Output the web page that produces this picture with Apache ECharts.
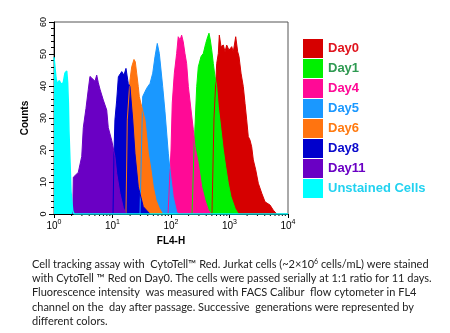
<!DOCTYPE html>
<html><head><meta charset="utf-8">
<script src="https://cdn.jsdelivr.net/npm/echarts@6/dist/echarts.min.js"></script>
<style>html,body{margin:0;padding:0;background:#fff}#c{width:450px;height:333px}</style>
</head><body><div id="c"></div>
<script>
// FL4-H intensity, counts
const day0 = [[502,0],[543,30],[604,47],[644,50.2],[670,55.9],[716,52.3],[784,52.8],[838,50.7],[896,52.8],[980,51.2],[1091,52.3],[1161,50.7],[1277,55.4],[1381,50.7],[1453,49.2],[1574,44],[1722,39.8],[1841,34.6],[1967,29.4],[2094,24.2],[2240,23.1],[2394,21],[2553,16.9],[2806,13.8],[3107,9.6],[3556,6.5],[4047,3.8],[4924,2.8],[5610,1.2],[6412,0]];
const day1 = [[229,0],[247,20],[275,39.8],[293,46],[326,49.2],[357,50.2],[392,53.3],[424,55.4],[446,56.5],[470,54.4],[497,51.2],[529,47],[565,42.9],[604,39.8],[644,33.5],[716,26.3],[784,20],[861,14.8],[953,9.6],[1061,5.4],[1242,1.8],[1413,0]];
const day4 = [[89,0],[100,20],[105,34.6],[114,44],[125,50.2],[133,55.4],[143,54.4],[152,55.9],[162,53.8],[173,50.2],[185,47],[198,39.8],[220,32.5],[241,26.3],[257,21],[293,15.8],[335,8.5],[381,4.4],[434,1.3],[483,0]];
const day5 = [[29.5,0],[32.8,36.7],[38.4,39.3],[43.8,40.8],[48.7,44],[53.3,49.2],[58.3,53.3],[63.1,50.2],[67.5,45],[72.1,39.8],[78.9,32],[89.9,19],[96.1,13.8],[109,5.4],[125,0.7],[132,0]];
const day6 = [[17.0,0],[17.9,29.4],[19.9,41.9],[21.3,46],[23.3,48.3],[24.5,47.6],[25.9,44],[27.6,39.8],[28.7,36.7],[31.6,33.5],[35.9,29.4],[38.4,24.2],[40.9,19],[45.5,13.8],[49.8,8.5],[55.4,4.4],[63.1,1.8],[72.1,0]];
const day8 = [[10.2,0],[10.6,19],[11.0,29.4],[11.8,35.6],[12.6,42.9],[14.4,44.5],[15.7,43.4],[17.0,45.5],[18.6,40.8],[19.9,39.8],[22.2,29.4],[24.2,19],[27.6,8.5],[33.6,2.3],[43.8,0]];
const day11 = [[2.09,0],[2.14,11.5],[2.60,13],[2.98,18],[3.17,27],[3.52,33],[3.86,39],[4.12,43],[4.41,43.4],[5.02,41.5],[5.37,43.4],[5.72,41],[6.11,39],[6.96,35.6],[7.96,32.5],[8.47,27],[9.69,23],[11.0,18],[11.8,12.7],[13.4,6.5],[15.3,2],[17.0,0]];
const unstained = [[1.0,49],[1.04,48.5],[1.08,42.5],[1.14,40.6],[1.23,41.7],[1.32,40.6],[1.44,41],[1.54,44],[1.65,44.7],[1.71,41],[1.76,34.7],[1.80,26],[1.88,16],[1.95,7],[2.09,1],[2.2,0],[10000,0]];

const seriesNames = ['Day0','Day1','Day4','Day5','Day6','Day8','Day11','Unstained Cells'];
const seriesData = [day0, day1, day4, day5, day6, day8, day11, unstained];
const fillColors = ['#d60000','#00f000','#ff0a96','#1a98ff','#ff7410','#0000cc','#6a00c4','#00ffff'];
const textColors = ['#e0141e','#2e9a52','#ff0a96','#1a98ff','#ff7a10','#0a0acc','#6a00c4','#22d2f0'];
const xTicks = [1,10,100,1000,10000];
const yTicks = [0,10,20,30,40,50,60];
const caption = [
 'Cell tracking assay with  CytoTell\u2122 Red. Jurkat cells (~2\u00d710{s|6} cells/mL) were stained',
 'with CytoTell \u2122 Red on Day0. The cells were passed serially at 1:1 ratio for 11 days.',
 'Fluorescence intensity  was measured with FACS Calibur  flow cytometer in FL4',
 'channel on the  day after passage. Successive  generations were represented by',
 'different colors.'
];

const chart = echarts.init(document.getElementById('c'), null, {renderer:'canvas'});
const series = seriesNames.map((n,i)=>({
  name:n, type:'line', data:seriesData[i], symbol:'none', animation:false,
  lineStyle:{color:fillColors[i], width: i===7?1.5:1},
  itemStyle:{color:fillColors[i]},
  areaStyle:{color:fillColors[i], opacity:1}
}));
const graphics = caption.map((t,i)=>({
  type:'text', left:32, top:258+i*14.5,
  style:{text:t, font:'11px Lato', fill:'#222',
    rich:{s:{fontFamily:'Lato', fontSize:7, fill:'#222', padding:[0,0,5,0]}}}
}));
chart.setOption({
  animation:false,
  grid:{left:54, top:22, width:234, height:192, show:true, borderColor:'#555', borderWidth:1, backgroundColor:'transparent'},
  legend:{
    orient:'vertical', left:303, top:39, padding:0, itemWidth:20, itemHeight:19, itemGap:1,
    selectedMode:false, icon:'rect',
    textStyle:{fontFamily:'Arial', fontWeight:'bold', fontSize:13},
    data:seriesNames.map((n,i)=>({name:n, textStyle:{color:textColors[i]}, itemStyle:{color:fillColors[i]}}))
  },
  xAxis:{
    type:'log', logBase:10, min:xTicks[0], max:xTicks[xTicks.length-1],
    name:'FL4-H', nameLocation:'middle', nameGap:21,
    nameTextStyle:{fontFamily:'Arial', fontWeight:'bold', fontSize:10, color:'#000'},
    axisLine:{lineStyle:{color:'#000'}},
    axisTick:{length:4, lineStyle:{color:'#000'}},
    splitLine:{show:false},
    axisLabel:{margin:4, formatter:v=>'{b|10}{s|'+Math.round(Math.log10(v))+'}',
      rich:{b:{fontFamily:'Arial', fontSize:10, color:'#000', padding:[3,0,0,0]}, s:{fontFamily:'Arial', fontSize:7, color:'#000', padding:[0,0,4,0]}}}
  },
  yAxis:{
    type:'value', min:yTicks[0], max:yTicks[yTicks.length-1], interval:10,
    name:'Counts', nameLocation:'middle', nameGap:24, nameRotate:90,
    nameTextStyle:{fontFamily:'Arial', fontWeight:'bold', fontSize:10, color:'#000'},
    axisLine:{show:true, lineStyle:{color:'#000'}},
    axisTick:{show:true, length:5, lineStyle:{color:'#000'}},
    minorTick:{show:true, splitNumber:5, length:3, lineStyle:{color:'#000'}},
    splitLine:{show:false},
    axisLabel:{rotate:90, fontFamily:'Arial', fontSize:9, color:'#000', margin:6}
  },
  series:series,
  graphic:graphics
});
// minor log ticks
const minor = [];
const y0 = chart.convertToPixel({yAxisIndex:0}, 0);
for (let n=0;n<4;n++) for (let k=2;k<10;k++){
  const px = chart.convertToPixel({xAxisIndex:0}, k*Math.pow(10,n));
  minor.push({type:'line', shape:{x1:px, y1:y0, x2:px, y2:y0+2}, style:{stroke:'#000', lineWidth:1}, silent:true});
}
chart.setOption({graphic:graphics.concat(minor)});
</script></body></html>
